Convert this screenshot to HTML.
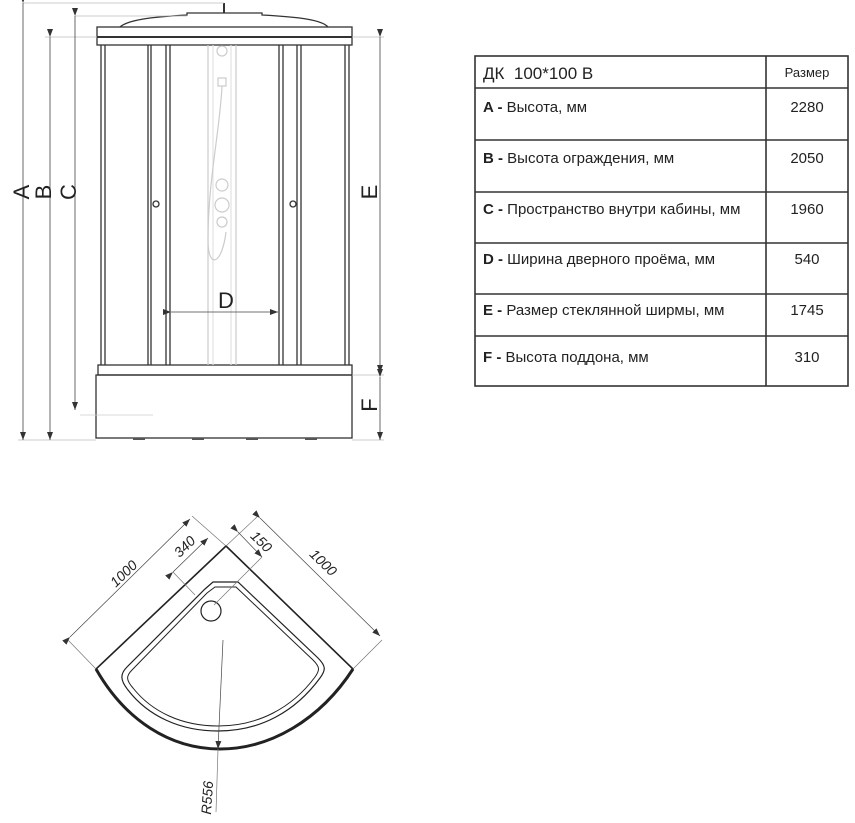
<!DOCTYPE html>
<html><head><meta charset="utf-8"><style>
html,body{margin:0;padding:0;background:#fff;}
svg{display:block;}
text{font-family:"Liberation Sans","DejaVu Sans",sans-serif;}
</style></head><body>
<svg width="855" height="823" viewBox="0 0 855 823" xmlns="http://www.w3.org/2000/svg">
<defs>
<marker id="ar" markerWidth="8" markerHeight="6" refX="8" refY="3" orient="auto" markerUnits="userSpaceOnUse"><path d="M0,0 L8,3 L0,6 z" fill="#333"/></marker>
</defs>
<g fill="none" stroke="#333" stroke-width="1.3">
<path d="M120,27 C128,20 150,17 187,15 L187,13 L262,13 L262,15 C300,17 322,20 328,27"/>
<line x1="224" y1="3" x2="224" y2="13" stroke-width="2"/>
<rect x="97" y="27" width="255" height="18"/>
<line x1="97" y1="37" x2="352" y2="37" stroke-width="2"/>
<line x1="101" y1="45" x2="101" y2="365"/><line x1="105" y1="45" x2="105" y2="365"/>
<line x1="148" y1="45" x2="148" y2="365"/><line x1="151" y1="45" x2="151" y2="365"/>
<line x1="166" y1="45" x2="166" y2="365"/><line x1="170" y1="45" x2="170" y2="365"/>
<line x1="279" y1="45" x2="279" y2="365"/><line x1="283" y1="45" x2="283" y2="365"/>
<line x1="297" y1="45" x2="297" y2="365"/><line x1="301" y1="45" x2="301" y2="365"/>
<line x1="345" y1="45" x2="345" y2="365"/><line x1="349" y1="45" x2="349" y2="365"/>
<circle cx="156" cy="204" r="3"/><circle cx="293" cy="204" r="3"/>
<rect x="98" y="365" width="254" height="10"/>
<rect x="96" y="375" width="256" height="63"/>
</g>
<g fill="#555"><rect x="133" y="438" width="12" height="2"/><rect x="192" y="438" width="12" height="2"/><rect x="246" y="438" width="12" height="2"/><rect x="305" y="438" width="12" height="2"/></g>
<g fill="none" stroke="#ccc" stroke-width="1.2">
<line x1="208" y1="45" x2="208" y2="365"/><line x1="236" y1="45" x2="236" y2="365"/>
<line x1="213" y1="45" x2="213" y2="365" stroke="#e2e2e2"/><line x1="231" y1="45" x2="231" y2="365" stroke="#e2e2e2"/>
<circle cx="222" cy="51" r="5"/><rect x="218" y="78" width="8" height="8"/>
<path d="M222,86 C220,130 208,180 208,240 C208,270 222,265 226,232"/>
<circle cx="222" cy="185" r="6"/><circle cx="222" cy="205" r="7"/><circle cx="222" cy="222" r="5"/>
</g>
<g stroke="#444" stroke-width="0.8" fill="none">
<line x1="23" y1="3" x2="224" y2="3" stroke="#bbb"/>
<line x1="75" y1="16" x2="187" y2="16" stroke="#bbb"/>
<line x1="45" y1="37" x2="97" y2="37" stroke="#bbb"/>
<line x1="352" y1="37" x2="384" y2="37" stroke="#bbb"/>
<line x1="18" y1="440" x2="96" y2="440" stroke="#bbb"/>
<line x1="352" y1="375" x2="384" y2="375" stroke="#bbb"/>
<line x1="352" y1="440" x2="384" y2="440" stroke="#bbb"/>
<line x1="80" y1="415" x2="153" y2="415" stroke="#ccc"/>
<line x1="23" y1="3" x2="23" y2="440" marker-start="url(#ar)" marker-end="url(#ar)"/>
<line x1="50" y1="37" x2="50" y2="440" marker-start="url(#ar)" marker-end="url(#ar)"/>
<line x1="75" y1="16" x2="75" y2="410" marker-start="url(#ar)" marker-end="url(#ar)"/>
<line x1="380" y1="37" x2="380" y2="373" marker-start="url(#ar)" marker-end="url(#ar)"/>
<line x1="380" y1="377" x2="380" y2="440" marker-start="url(#ar)" marker-end="url(#ar)"/>
<line x1="171" y1="312" x2="278" y2="312" marker-start="url(#ar)" marker-end="url(#ar)"/>
</g>
<g font-size="22" fill="#222" text-anchor="middle">
<text transform="translate(21,192) rotate(-90)" y="8">A</text>
<text transform="translate(43,192) rotate(-90)" y="8">B</text>
<text transform="translate(68,192) rotate(-90)" y="8">C</text>
<text transform="translate(369,192) rotate(-90)" y="8">E</text>
<text transform="translate(369,405) rotate(-90)" y="8">F</text>
<text x="226" y="308">D</text>
</g>
<g fill="none" stroke="#333" stroke-width="1.6">
<rect x="475" y="56" width="373" height="330"/>
<line x1="766" y1="56" x2="766" y2="386"/>
<line x1="475" y1="88" x2="848" y2="88"/><line x1="475" y1="140" x2="848" y2="140"/>
<line x1="475" y1="192" x2="848" y2="192"/><line x1="475" y1="243" x2="848" y2="243"/>
<line x1="475" y1="294" x2="848" y2="294"/><line x1="475" y1="336" x2="848" y2="336"/>
</g>
<g font-size="15" fill="#222">
<text x="483" y="79" font-size="17" xml:space="preserve">ДК  100*100 В</text>
<text x="807" y="77" font-size="13" text-anchor="middle">Размер</text>
<text x="483" y="112"><tspan font-weight="bold">A -</tspan> Высота, мм</text>
<text x="483" y="163"><tspan font-weight="bold">B -</tspan> Высота ограждения, мм</text>
<text x="483" y="214"><tspan font-weight="bold">C -</tspan> Пространство внутри кабины, мм</text>
<text x="483" y="264"><tspan font-weight="bold">D -</tspan> Ширина дверного проёма, мм</text>
<text x="483" y="315"><tspan font-weight="bold">E -</tspan> Размер стеклянной ширмы, мм</text>
<text x="483" y="362"><tspan font-weight="bold">F -</tspan> Высота поддона, мм</text>
<g text-anchor="middle"><text x="807" y="112">2280</text><text x="807" y="163">2050</text><text x="807" y="214">1960</text><text x="807" y="264">540</text><text x="807" y="315">1745</text><text x="807" y="362">310</text></g>
</g>
<g fill="none" stroke="#222">
<path d="M226,546 L353,669 C320,720 270,749 220,749 C170,749 125,720 96,669 Z" stroke-width="1.6"/>
<path d="M96,669 C125,720 170,749 220,749 C270,749 320,720 353,669" stroke-width="3"/>
<path d="M213,582 L238,582 L318,658 C326,666 326,670 320,678 C295,712 260,731 218,731 C180,731 148,716 128,690 C120,680 120,674 127,667 L205,589 Z" stroke-width="1.2"/>
<path d="M215,587 L236,587 L313,660 C320,667 320,670 315,677 C292,708 258,726 218,726 C182,726 152,712 133,688 C126,680 126,676 132,670 L207,593 Z" stroke-width="1"/>
<circle cx="211" cy="611" r="10" stroke-width="1.2"/>
</g>
<g stroke="#777" stroke-width="0.7" fill="none">
<line x1="96" y1="669" x2="68" y2="640"/><line x1="226" y1="546" x2="192" y2="516"/>
<line x1="70" y1="637" x2="190" y2="519" stroke="#444" marker-start="url(#ar)" marker-end="url(#ar)"/>
<line x1="226" y1="546" x2="258" y2="516"/><line x1="353" y1="669" x2="382" y2="640"/>
<line x1="260" y1="518" x2="380" y2="636" stroke="#444" marker-start="url(#ar)" marker-end="url(#ar)"/>
<line x1="173" y1="572" x2="208" y2="538" stroke="#444" marker-start="url(#ar)" marker-end="url(#ar)"/>
<line x1="173" y1="572" x2="195" y2="595"/>
<line x1="238" y1="532" x2="262" y2="557" stroke="#444" marker-start="url(#ar)" marker-end="url(#ar)"/>
<line x1="262" y1="557" x2="214" y2="605"/>
<line x1="223" y1="640" x2="218" y2="749" stroke="#444" marker-end="url(#ar)"/>
<line x1="218" y1="749" x2="216" y2="812"/>
</g>
<g font-size="14" fill="#222" font-style="italic" text-anchor="middle">
<text transform="translate(127,577) rotate(-44)">1000</text>
<text transform="translate(320,566) rotate(44)">1000</text>
<text transform="translate(188,550) rotate(-44)">340</text>
<text transform="translate(258,545) rotate(44)">150</text>
<text transform="translate(212,798) rotate(-86)">R556</text>
</g>
</svg>
</body></html>
